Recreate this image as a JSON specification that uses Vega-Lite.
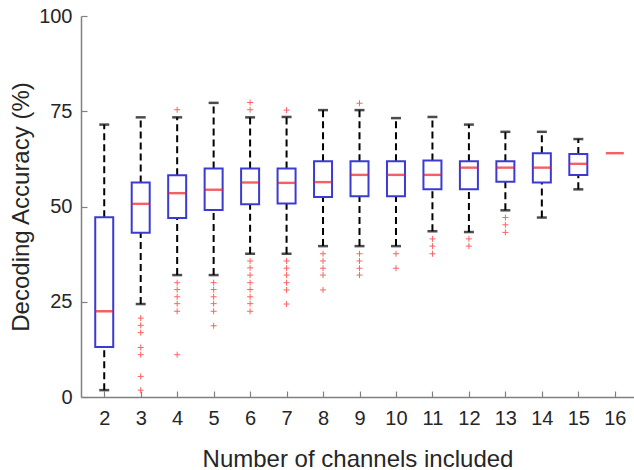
{
  "$schema": "https://vega.github.io/schema/vega-lite/v6.json",
  "width": 553,
  "height": 381,
  "autosize": {"type": "none"},
  "padding": {"left": 81, "top": 16, "right": 0, "bottom": 73},
  "background": "white",
  "config": {
    "view": {"stroke": null},
    "font": "Liberation Sans",
    "axis": {
      "grid": false,
      "domainColor": "#808080",
      "domainWidth": 1.5,
      "tickColor": "#808080",
      "tickWidth": 1.2,
      "tickSize": -6,
      "labelColor": "#262626",
      "titleColor": "#262626",
      "labelFontSize": 20,
      "titleFontSize": 24,
      "titleFontWeight": "normal",
      "labelFont": "Liberation Sans",
      "titleFont": "Liberation Sans",
      "labelOverlap": false
    }
  },
  "datasets": {
    "stats": [
      {"g": 2, "lower": 1.8, "q1": 13.1, "median": 22.5, "q3": 47.2, "upper": 71.5},
      {"g": 3, "lower": 24.4, "q1": 43.1, "median": 50.7, "q3": 56.3, "upper": 73.4},
      {"g": 4, "lower": 32.0, "q1": 47.0, "median": 53.5, "q3": 58.2, "upper": 73.4},
      {"g": 5, "lower": 32.0, "q1": 49.1, "median": 54.4, "q3": 60.0, "upper": 77.2},
      {"g": 6, "lower": 37.6, "q1": 50.6, "median": 56.3, "q3": 60.0, "upper": 73.4},
      {"g": 7, "lower": 37.6, "q1": 50.8, "median": 56.2, "q3": 60.0, "upper": 73.5},
      {"g": 8, "lower": 39.6, "q1": 52.5, "median": 56.4, "q3": 61.9, "upper": 75.3},
      {"g": 9, "lower": 39.6, "q1": 52.7, "median": 58.3, "q3": 61.9, "upper": 75.3},
      {"g": 10, "lower": 39.6, "q1": 52.7, "median": 58.3, "q3": 61.9, "upper": 73.2},
      {"g": 11, "lower": 43.5, "q1": 54.5, "median": 58.3, "q3": 62.1, "upper": 73.5},
      {"g": 12, "lower": 43.3, "q1": 54.5, "median": 60.2, "q3": 61.9, "upper": 71.5},
      {"g": 13, "lower": 49.0, "q1": 56.5, "median": 60.2, "q3": 61.9, "upper": 69.6},
      {"g": 14, "lower": 47.1, "q1": 56.3, "median": 60.2, "q3": 64.0, "upper": 69.6},
      {"g": 15, "lower": 54.5, "q1": 58.3, "median": 61.2, "q3": 63.8, "upper": 67.7},
      {"g": 16, "lower": null, "q1": null, "median": 64.0, "q3": null, "upper": null}
    ],
    "outliers": [
      {"g": 3, "v": 20.7}, {"g": 3, "v": 18.8}, {"g": 3, "v": 16.9}, {"g": 3, "v": 13.0}, {"g": 3, "v": 11.1}, {"g": 3, "v": 5.4}, {"g": 3, "v": 1.8},
      {"g": 4, "v": 75.4}, {"g": 4, "v": 30.0}, {"g": 4, "v": 28.2}, {"g": 4, "v": 26.3}, {"g": 4, "v": 24.5}, {"g": 4, "v": 22.5}, {"g": 4, "v": 11.1},
      {"g": 5, "v": 30.0}, {"g": 5, "v": 28.2}, {"g": 5, "v": 26.3}, {"g": 5, "v": 24.5}, {"g": 5, "v": 22.5}, {"g": 5, "v": 18.7},
      {"g": 6, "v": 77.3}, {"g": 6, "v": 75.4}, {"g": 6, "v": 35.7}, {"g": 6, "v": 33.9}, {"g": 6, "v": 32.0}, {"g": 6, "v": 30.0}, {"g": 6, "v": 28.2}, {"g": 6, "v": 26.3}, {"g": 6, "v": 24.5}, {"g": 6, "v": 22.5},
      {"g": 7, "v": 75.3}, {"g": 7, "v": 35.7}, {"g": 7, "v": 33.8}, {"g": 7, "v": 32.0}, {"g": 7, "v": 30.0}, {"g": 7, "v": 28.1}, {"g": 7, "v": 24.4},
      {"g": 8, "v": 37.6}, {"g": 8, "v": 35.7}, {"g": 8, "v": 33.8}, {"g": 8, "v": 32.0}, {"g": 8, "v": 28.1},
      {"g": 9, "v": 77.1}, {"g": 9, "v": 37.6}, {"g": 9, "v": 35.7}, {"g": 9, "v": 33.8}, {"g": 9, "v": 32.0},
      {"g": 10, "v": 37.6}, {"g": 10, "v": 33.8},
      {"g": 11, "v": 41.5}, {"g": 11, "v": 39.6}, {"g": 11, "v": 37.6},
      {"g": 12, "v": 41.5}, {"g": 12, "v": 39.6},
      {"g": 13, "v": 47.1}, {"g": 13, "v": 45.2}, {"g": 13, "v": 43.2}
    ]
  },
  "layer": [
    {
      "data": {"name": "stats"},
      "mark": {"type": "rule", "color": "black", "strokeWidth": 2, "strokeDash": [7, 4]},
      "encoding": {
        "x": {"field": "g", "type": "quantitative", "scale": {"domain": [1.5, 16.39], "nice": false, "zero": false},
          "axis": {"values": [2,3,4,5,6,7,8,9,10,11,12,13,14,15,16], "tickCount": 30, "format": "d", "title": "Number of channels included", "labelPadding": 17, "titlePadding": 19, "orient": "bottom", "labelOverlap": false, "labelFlush": false}},
        "y": {"field": "lower", "type": "quantitative", "scale": {"domain": [0, 100], "nice": false},
          "axis": {"values": [0, 25, 50, 75, 100], "tickCount": 10, "format": "d", "title": "Decoding Accuracy (%)", "labelPadding": 15, "titlePadding": 5, "labelOverlap": false, "labelFlush": false}},
        "y2": {"field": "q1"}
      }
    },
    {
      "data": {"name": "stats"},
      "mark": {"type": "rule", "color": "black", "strokeWidth": 2, "strokeDash": [7, 4]},
      "encoding": {
        "x": {"field": "g", "type": "quantitative"},
        "y": {"field": "q3", "type": "quantitative"},
        "y2": {"field": "upper"}
      }
    },
    {
      "data": {"name": "stats"},
      "mark": {"type": "tick", "color": "black", "orient": "horizontal", "size": 10, "thickness": 2.5},
      "encoding": {
        "x": {"field": "g", "type": "quantitative"},
        "y": {"field": "lower", "type": "quantitative"}
      }
    },
    {
      "data": {"name": "stats"},
      "mark": {"type": "tick", "color": "black", "orient": "horizontal", "size": 10, "thickness": 2.5},
      "encoding": {
        "x": {"field": "g", "type": "quantitative"},
        "y": {"field": "upper", "type": "quantitative"}
      }
    },
    {
      "mark": {"type": "rule", "color": "black", "strokeWidth": 2},
      "encoding": {"y": {"datum": 50}}
    },
    {
      "data": {"name": "stats"},
      "mark": {"type": "bar", "fill": null, "fillOpacity": 0, "stroke": "#3b3bd4", "strokeWidth": 2, "size": 18},
      "encoding": {
        "x": {"field": "g", "type": "quantitative"},
        "y": {"field": "q1", "type": "quantitative"},
        "y2": {"field": "q3"}
      }
    },
    {
      "data": {"name": "stats"},
      "mark": {"type": "tick", "color": "#ee1c25", "orient": "horizontal", "size": 18, "thickness": 2.4},
      "encoding": {
        "x": {"field": "g", "type": "quantitative"},
        "y": {"field": "median", "type": "quantitative"}
      }
    },
    {
      "data": {"name": "outliers"},
      "mark": {"type": "point", "shape": "M-1,0H1M0,-1V1", "filled": false, "stroke": "#ff2020", "strokeWidth": 1, "size": 36},
      "encoding": {
        "x": {"field": "g", "type": "quantitative"},
        "y": {"field": "v", "type": "quantitative"}
      }
    }
  ]
}
